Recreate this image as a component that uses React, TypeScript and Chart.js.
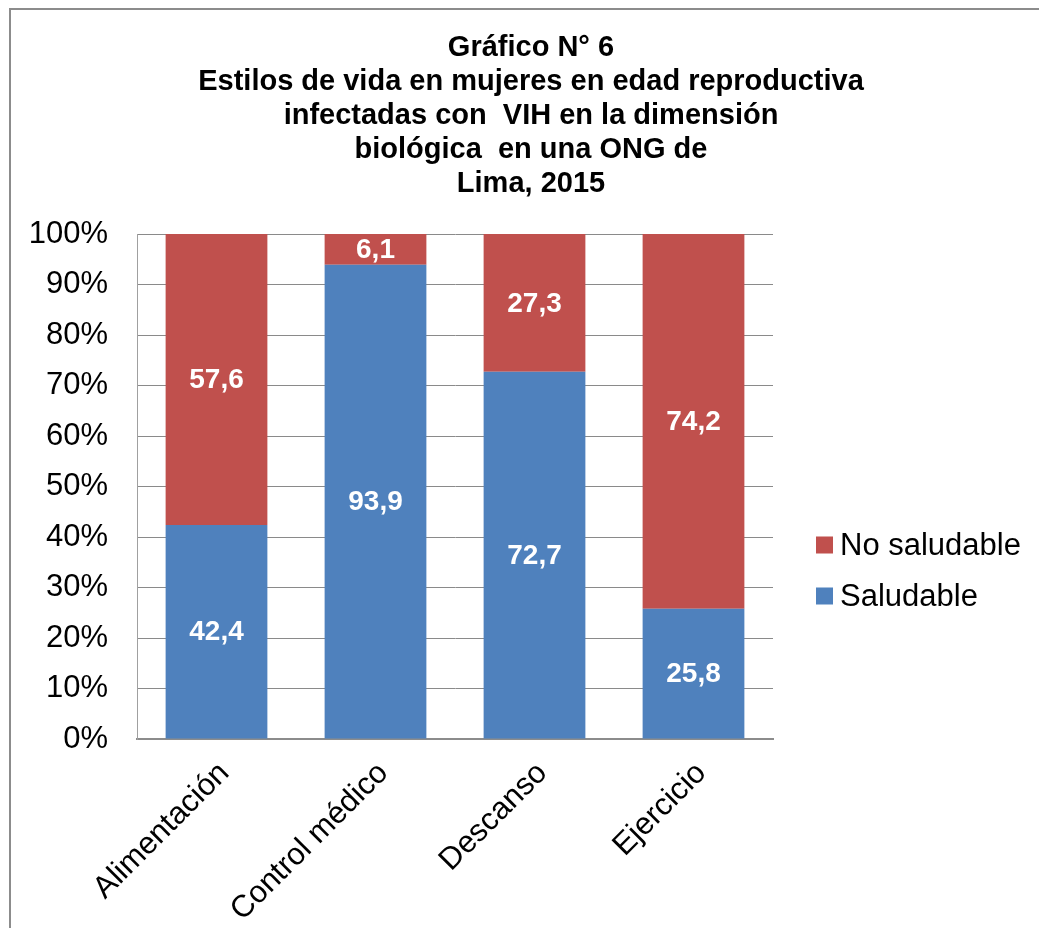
import React, { useEffect, useRef } from "react";
import { Chart, registerables } from "chart.js";

Chart.register(...registerables);

const categories = ["Alimentación", "Control médico", "Descanso", "Ejercicio"];
const saludable = [42.4, 93.9, 72.7, 25.8];
const noSaludable = [57.6, 6.1, 27.3, 74.2];
const seriesNames = ["Saludable", "No saludable"];
const seriesColors = ["#4F81BD", "#C0504D"];
const titleLines = [
  "Gráfico N° 6",
  "Estilos de vida en mujeres en edad reproductiva",
  "infectadas con  VIH en la dimensión",
  "biológica  en una ONG de",
  "Lima, 2015",
];
const yMin = 0;
const yMax = 100;
const yStep = 10;

const FONT = "'Liberation Sans', Arial, Helvetica, sans-serif";

const framePlugin = {
  id: "frame",
  beforeDraw(chart: any) {
    const ctx = chart.ctx;
    ctx.save();
    ctx.strokeStyle = "#8c8c8c";
    ctx.lineWidth = 2;
    ctx.beginPath();
    ctx.moveTo(10, 1000);
    ctx.lineTo(10, 9);
    ctx.lineTo(1100, 9);
    ctx.stroke();
    ctx.restore();
  },
};

const titlePlugin = {
  id: "customTitle",
  afterDraw(chart: any) {
    const ctx = chart.ctx;
    ctx.save();
    ctx.fillStyle = "#000";
    ctx.font = `bold 29px ${FONT}`;
    ctx.textAlign = "center";
    ctx.textBaseline = "middle";
    titleLines.forEach((line, i) => {
      ctx.fillText(line, 531, 48 + i * 34);
    });
    ctx.restore();
  },
};

const legendPlugin = {
  id: "customLegend",
  afterDraw(chart: any) {
    const ctx = chart.ctx;
    ctx.save();
    ctx.font = `31px ${FONT}`;
    ctx.textBaseline = "middle";
    ctx.textAlign = "left";
    const order = chart.data.datasets.map((_: any, i: number) => i).reverse();
    order.forEach((di: number, k: number) => {
      const ds = chart.data.datasets[di];
      const cy = 545 + k * 51;
      ctx.fillStyle = ds.backgroundColor;
      ctx.fillRect(816, cy - 8.5, 17, 17);
      ctx.fillStyle = "#000";
      ctx.fillText(ds.label, 840, cy + 1);
    });
    ctx.restore();
  },
};

const dataLabelPlugin = {
  id: "dataLabels",
  afterDatasetsDraw(chart: any) {
    const ctx = chart.ctx;
    ctx.save();
    ctx.font = `bold 28px ${FONT}`;
    ctx.fillStyle = "#ffffff";
    ctx.textAlign = "center";
    ctx.textBaseline = "middle";
    chart.data.datasets.forEach((ds: any, di: number) => {
      const meta = chart.getDatasetMeta(di);
      meta.data.forEach((el: any, i: number) => {
        const v = ds.data[i];
        const txt = v.toFixed(1).replace(".", ",");
        ctx.fillText(txt, el.x, (el.y + el.base) / 2 + 1);
      });
    });
    ctx.restore();
  },
};

export default function App() {
  const canvasRef = useRef<HTMLCanvasElement | null>(null);

  useEffect(() => {
    if (!canvasRef.current) return;
    const chart = new Chart(canvasRef.current, {
      type: "bar",
      data: {
        labels: categories,
        datasets: [
          {
            label: seriesNames[0],
            data: saludable,
            backgroundColor: seriesColors[0],
            categoryPercentage: 1,
            barPercentage: 0.64,
          },
          {
            label: seriesNames[1],
            data: noSaludable,
            backgroundColor: seriesColors[1],
            categoryPercentage: 1,
            barPercentage: 0.64,
          },
        ],
      },
      options: {
        responsive: false,
        animation: false,
        layout: { padding: { top: 234, left: 0, right: 266, bottom: 0 } },
        plugins: {
          legend: { display: false },
          title: { display: false },
          tooltip: { enabled: false },
        },
        scales: {
          x: {
            stacked: true,
            grid: { display: false, drawTicks: false },
            border: { display: true, color: "#8c8c8c", width: 2 },
            ticks: {
              autoSkip: false,
              minRotation: 45,
              maxRotation: 45,
              padding: 16,
              labelOffset: 8,
              color: "#000",
              font: { family: FONT, size: 31 },
            },
            afterFit: (s: any) => {
              s.height = 189;
            },
          },
          y: {
            stacked: true,
            min: yMin,
            max: yMax,
            grid: { color: "#8a8a8a", lineWidth: 1, drawTicks: false },
            border: { display: true, color: "#a0a0a0", width: 1 },
            ticks: {
              stepSize: yStep,
              padding: 29,
              color: "#000",
              font: { family: FONT, size: 31 },
              callback: (v: any) => `${v}%`,
            },
            afterFit: (s: any) => {
              s.width = 137;
            },
          },
        },
      },
      plugins: [framePlugin, titlePlugin, legendPlugin, dataLabelPlugin],
    });
    return () => chart.destroy();
  }, []);

  return (
    <div style={{ position: "absolute", left: 0, top: 0, width: 1039, height: 928, background: "#fff" }}>
      <canvas ref={canvasRef} width={1039} height={928} style={{ width: 1039, height: 928, display: "block" }} />
    </div>
  );
}
